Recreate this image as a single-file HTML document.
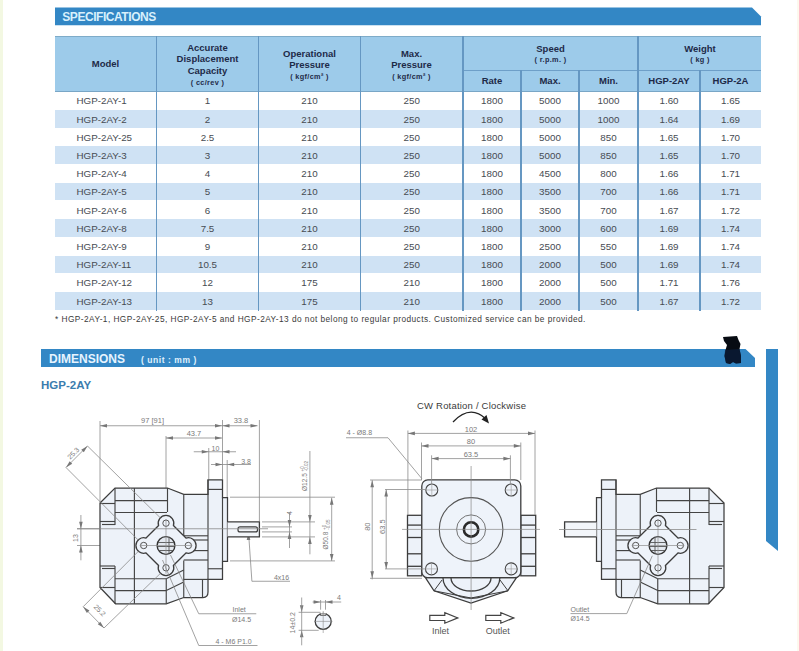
<!DOCTYPE html><html><head><meta charset="utf-8"><style>
*{margin:0;padding:0;box-sizing:border-box}
html,body{width:799px;height:651px;overflow:hidden;background:#fff}
body{position:relative;font-family:"Liberation Sans",sans-serif}
.a{position:absolute}
.t{position:absolute;text-align:center;white-space:nowrap;transform:translateX(-50%)}
.d{font-size:9.8px;color:#464b52;line-height:10px}
.h{font-size:9.5px;font-weight:bold;color:#1d2a48;line-height:11px}
.u{font-size:7.3px;font-weight:bold;color:#1d2a48;letter-spacing:0.35px;line-height:9px}
</style></head><body>

<div class="a" style="left:0;top:0;width:3px;height:651px;background:#f3f8e2"></div>
<div class="a" style="left:797px;top:0;width:2px;height:651px;background:#fdf8ee"></div>
<svg class="a" style="left:0;top:0" width="799" height="651" viewBox="0 0 799 651">
<path d="M55 7.5 H752 L761 16.5 V25.3 H55 Z" fill="#3387c5"/>
<path d="M41 349 H745.5 L755 358 V367 H41 Z" fill="#3387c5"/>
<path d="M766 349 H778 V551 L766 541 Z" fill="#3387c5"/>
<path d="M723,337 L737,336 L738.5,340 L740.5,344 L739.5,349 L741,356 L741,363 L736,363.5 L733,362 L730,364 L726,363 L724.5,356 L725.5,350 L727,345 L724,341 Z" fill="#070b12"/>
<path d="M725,350 L739.5,349 L741,356 L741,363 L736,363.5 L733,362 L730,364 L726,363 L724.5,356 Z" fill="#0b2244" opacity="0.6"/>
</svg>
<div class="a" style="left:62.3px;top:9.6px;font-size:12px;font-weight:bold;color:#d8f0fc;letter-spacing:-0.45px;line-height:14px">SPECIFICATIONS</div>
<div class="a" style="left:55px;top:36px;width:706px;height:56px;background:#9dcbea;border-top:1.5px solid #7eabc8"></div>
<div class="a" style="left:55px;top:109.9px;width:706px;height:17.8px;background:#cfe2f4"></div>
<div class="a" style="left:55px;top:146.3px;width:706px;height:17.8px;background:#cfe2f4"></div>
<div class="a" style="left:55px;top:182.7px;width:706px;height:17.8px;background:#cfe2f4"></div>
<div class="a" style="left:55px;top:219.1px;width:706px;height:17.8px;background:#cfe2f4"></div>
<div class="a" style="left:55px;top:255.5px;width:706px;height:17.8px;background:#cfe2f4"></div>
<div class="a" style="left:55px;top:291.9px;width:706px;height:17.8px;background:#cfe2f4"></div>
<div class="a" style="left:55px;top:90.5px;width:706px;height:1.5px;background:#79a6c6"></div>
<div class="a" style="left:463px;top:69.8px;width:298px;height:1.5px;background:#6e9fc8"></div>
<div class="a" style="left:155.9px;top:36px;width:1.25px;height:274.6px;background:#6597c2"></div>
<div class="a" style="left:257.9px;top:36px;width:1.25px;height:274.6px;background:#6597c2"></div>
<div class="a" style="left:359.9px;top:36px;width:1.25px;height:274.6px;background:#6597c2"></div>
<div class="a" style="left:462.4px;top:36px;width:1.25px;height:274.6px;background:#6597c2"></div>
<div class="a" style="left:520.4px;top:70px;width:1.25px;height:240.6px;background:#6597c2"></div>
<div class="a" style="left:578.4px;top:70px;width:1.25px;height:240.6px;background:#6597c2"></div>
<div class="a" style="left:637.4px;top:36px;width:1.25px;height:274.6px;background:#6597c2"></div>
<div class="a" style="left:699.4px;top:70px;width:1.25px;height:240.6px;background:#6597c2"></div>
<div class="t h" style="left:105.5px;top:58px">Model</div>
<div class="t h" style="left:207.5px;top:41.5px;line-height:11.7px">Accurate<br>Displacement<br>Capacity</div>
<div class="t u" style="left:207.5px;top:77.5px">( cc/rev )</div>
<div class="t h" style="left:309.5px;top:47.8px">Operational<br>Pressure</div>
<div class="t u" style="left:309.5px;top:72px">( kgf/cm&sup2; )</div>
<div class="t h" style="left:411.5px;top:47.8px">Max.<br>Pressure</div>
<div class="t u" style="left:411.5px;top:72px">( kgf/cm&sup2; )</div>
<div class="t h" style="left:550.5px;top:43px">Speed</div>
<div class="t u" style="left:550.5px;top:54.5px">( r.p.m. )</div>
<div class="t h" style="left:700px;top:43px">Weight</div>
<div class="t u" style="left:700px;top:54.5px">( kg )</div>
<div class="t h" style="left:492px;top:75px">Rate</div>
<div class="t h" style="left:550px;top:75px">Max.</div>
<div class="t h" style="left:608.5px;top:75px">Min.</div>
<div class="t h" style="left:669px;top:75px">HGP-2AY</div>
<div class="t h" style="left:730.5px;top:75px">HGP-2A</div>
<div class="a d" style="left:76.5px;top:96.3px;white-space:nowrap">HGP-2AY-1</div>
<div class="t d" style="left:207.5px;top:96.3px">1</div>
<div class="t d" style="left:309.5px;top:96.3px">210</div>
<div class="t d" style="left:411.8px;top:96.3px">250</div>
<div class="t d" style="left:492.0px;top:96.3px">1800</div>
<div class="t d" style="left:550.0px;top:96.3px">5000</div>
<div class="t d" style="left:608.5px;top:96.3px">1000</div>
<div class="t d" style="left:669.0px;top:96.3px">1.60</div>
<div class="t d" style="left:730.5px;top:96.3px">1.65</div>
<div class="a d" style="left:76.5px;top:114.5px;white-space:nowrap">HGP-2AY-2</div>
<div class="t d" style="left:207.5px;top:114.5px">2</div>
<div class="t d" style="left:309.5px;top:114.5px">210</div>
<div class="t d" style="left:411.8px;top:114.5px">250</div>
<div class="t d" style="left:492.0px;top:114.5px">1800</div>
<div class="t d" style="left:550.0px;top:114.5px">5000</div>
<div class="t d" style="left:608.5px;top:114.5px">1000</div>
<div class="t d" style="left:669.0px;top:114.5px">1.64</div>
<div class="t d" style="left:730.5px;top:114.5px">1.69</div>
<div class="a d" style="left:76.5px;top:132.7px;white-space:nowrap">HGP-2AY-25</div>
<div class="t d" style="left:207.5px;top:132.7px">2.5</div>
<div class="t d" style="left:309.5px;top:132.7px">210</div>
<div class="t d" style="left:411.8px;top:132.7px">250</div>
<div class="t d" style="left:492.0px;top:132.7px">1800</div>
<div class="t d" style="left:550.0px;top:132.7px">5000</div>
<div class="t d" style="left:608.5px;top:132.7px">850</div>
<div class="t d" style="left:669.0px;top:132.7px">1.65</div>
<div class="t d" style="left:730.5px;top:132.7px">1.70</div>
<div class="a d" style="left:76.5px;top:150.9px;white-space:nowrap">HGP-2AY-3</div>
<div class="t d" style="left:207.5px;top:150.9px">3</div>
<div class="t d" style="left:309.5px;top:150.9px">210</div>
<div class="t d" style="left:411.8px;top:150.9px">250</div>
<div class="t d" style="left:492.0px;top:150.9px">1800</div>
<div class="t d" style="left:550.0px;top:150.9px">5000</div>
<div class="t d" style="left:608.5px;top:150.9px">850</div>
<div class="t d" style="left:669.0px;top:150.9px">1.65</div>
<div class="t d" style="left:730.5px;top:150.9px">1.70</div>
<div class="a d" style="left:76.5px;top:169.1px;white-space:nowrap">HGP-2AY-4</div>
<div class="t d" style="left:207.5px;top:169.1px">4</div>
<div class="t d" style="left:309.5px;top:169.1px">210</div>
<div class="t d" style="left:411.8px;top:169.1px">250</div>
<div class="t d" style="left:492.0px;top:169.1px">1800</div>
<div class="t d" style="left:550.0px;top:169.1px">4500</div>
<div class="t d" style="left:608.5px;top:169.1px">800</div>
<div class="t d" style="left:669.0px;top:169.1px">1.66</div>
<div class="t d" style="left:730.5px;top:169.1px">1.71</div>
<div class="a d" style="left:76.5px;top:187.3px;white-space:nowrap">HGP-2AY-5</div>
<div class="t d" style="left:207.5px;top:187.3px">5</div>
<div class="t d" style="left:309.5px;top:187.3px">210</div>
<div class="t d" style="left:411.8px;top:187.3px">250</div>
<div class="t d" style="left:492.0px;top:187.3px">1800</div>
<div class="t d" style="left:550.0px;top:187.3px">3500</div>
<div class="t d" style="left:608.5px;top:187.3px">700</div>
<div class="t d" style="left:669.0px;top:187.3px">1.66</div>
<div class="t d" style="left:730.5px;top:187.3px">1.71</div>
<div class="a d" style="left:76.5px;top:205.5px;white-space:nowrap">HGP-2AY-6</div>
<div class="t d" style="left:207.5px;top:205.5px">6</div>
<div class="t d" style="left:309.5px;top:205.5px">210</div>
<div class="t d" style="left:411.8px;top:205.5px">250</div>
<div class="t d" style="left:492.0px;top:205.5px">1800</div>
<div class="t d" style="left:550.0px;top:205.5px">3500</div>
<div class="t d" style="left:608.5px;top:205.5px">700</div>
<div class="t d" style="left:669.0px;top:205.5px">1.67</div>
<div class="t d" style="left:730.5px;top:205.5px">1.72</div>
<div class="a d" style="left:76.5px;top:223.7px;white-space:nowrap">HGP-2AY-8</div>
<div class="t d" style="left:207.5px;top:223.7px">7.5</div>
<div class="t d" style="left:309.5px;top:223.7px">210</div>
<div class="t d" style="left:411.8px;top:223.7px">250</div>
<div class="t d" style="left:492.0px;top:223.7px">1800</div>
<div class="t d" style="left:550.0px;top:223.7px">3000</div>
<div class="t d" style="left:608.5px;top:223.7px">600</div>
<div class="t d" style="left:669.0px;top:223.7px">1.69</div>
<div class="t d" style="left:730.5px;top:223.7px">1.74</div>
<div class="a d" style="left:76.5px;top:241.9px;white-space:nowrap">HGP-2AY-9</div>
<div class="t d" style="left:207.5px;top:241.9px">9</div>
<div class="t d" style="left:309.5px;top:241.9px">210</div>
<div class="t d" style="left:411.8px;top:241.9px">250</div>
<div class="t d" style="left:492.0px;top:241.9px">1800</div>
<div class="t d" style="left:550.0px;top:241.9px">2500</div>
<div class="t d" style="left:608.5px;top:241.9px">550</div>
<div class="t d" style="left:669.0px;top:241.9px">1.69</div>
<div class="t d" style="left:730.5px;top:241.9px">1.74</div>
<div class="a d" style="left:76.5px;top:260.1px;white-space:nowrap">HGP-2AY-11</div>
<div class="t d" style="left:207.5px;top:260.1px">10.5</div>
<div class="t d" style="left:309.5px;top:260.1px">210</div>
<div class="t d" style="left:411.8px;top:260.1px">250</div>
<div class="t d" style="left:492.0px;top:260.1px">1800</div>
<div class="t d" style="left:550.0px;top:260.1px">2000</div>
<div class="t d" style="left:608.5px;top:260.1px">500</div>
<div class="t d" style="left:669.0px;top:260.1px">1.69</div>
<div class="t d" style="left:730.5px;top:260.1px">1.74</div>
<div class="a d" style="left:76.5px;top:278.3px;white-space:nowrap">HGP-2AY-12</div>
<div class="t d" style="left:207.5px;top:278.3px">12</div>
<div class="t d" style="left:309.5px;top:278.3px">175</div>
<div class="t d" style="left:411.8px;top:278.3px">210</div>
<div class="t d" style="left:492.0px;top:278.3px">1800</div>
<div class="t d" style="left:550.0px;top:278.3px">2000</div>
<div class="t d" style="left:608.5px;top:278.3px">500</div>
<div class="t d" style="left:669.0px;top:278.3px">1.71</div>
<div class="t d" style="left:730.5px;top:278.3px">1.76</div>
<div class="a d" style="left:76.5px;top:296.5px;white-space:nowrap">HGP-2AY-13</div>
<div class="t d" style="left:207.5px;top:296.5px">13</div>
<div class="t d" style="left:309.5px;top:296.5px">175</div>
<div class="t d" style="left:411.8px;top:296.5px">210</div>
<div class="t d" style="left:492.0px;top:296.5px">1800</div>
<div class="t d" style="left:550.0px;top:296.5px">2000</div>
<div class="t d" style="left:608.5px;top:296.5px">500</div>
<div class="t d" style="left:669.0px;top:296.5px">1.67</div>
<div class="t d" style="left:730.5px;top:296.5px">1.72</div>
<div class="a" style="left:55px;top:314px;font-size:8.3px;color:#3a3a3a;letter-spacing:0.45px;line-height:10px;white-space:nowrap">* HGP-2AY-1, HGP-2AY-25, HGP-2AY-5 and HGP-2AY-13 do not belong to regular products. Customized service can be provided.</div>
<div class="a" style="left:49px;top:352px;font-size:12px;font-weight:bold;color:#e6f4ff;line-height:14px">DIMENSIONS</div>
<div class="a" style="left:141px;top:355px;font-size:8.5px;font-weight:bold;color:#e0f2fd;line-height:10px;white-space:pre;letter-spacing:0.55px">( unit : mm )</div>
<div class="a" style="left:41px;top:377.5px;font-size:11.5px;font-weight:bold;color:#3b7cae;line-height:14px">HGP-2AY</div>
<svg class="a" style="left:0;top:0" width="799" height="651" viewBox="0 0 799 651"><path d="M100,421 V502" stroke="#8a8a8a" stroke-width="0.8" fill="none"/>
<path d="M100,425.75 H222" stroke="#8a8a8a" stroke-width="0.8" fill="none"/>
<path d="M222.5,420 V479" stroke="#8a8a8a" stroke-width="0.8" fill="none"/>
<path d="M222,425.75 H257.5" stroke="#8a8a8a" stroke-width="0.8" fill="none"/>
<path d="M259.4,420 V521" stroke="#8a8a8a" stroke-width="0.8" fill="none"/>
<path d="M166,436 V488" stroke="#8a8a8a" stroke-width="0.8" fill="none"/>
<path d="M166,438 H222" stroke="#8a8a8a" stroke-width="0.8" fill="none"/>
<path d="M193.75,451.75 H236" stroke="#8a8a8a" stroke-width="0.8" fill="none"/>
<path d="M208.75,448 V479" stroke="#8a8a8a" stroke-width="0.8" fill="none"/>
<path d="M211,464.5 H251" stroke="#8a8a8a" stroke-width="0.8" fill="none"/>
<path d="M227.2,460 V497" stroke="#8a8a8a" stroke-width="0.8" fill="none"/>
<path d="M66,467.5 L87.5,446" stroke="#8a8a8a" stroke-width="0.8" fill="none"/>
<path d="M80.9,515 V560.3" stroke="#8a8a8a" stroke-width="0.8" fill="none"/>
<path d="M77,528.75 H100" stroke="#8a8a8a" stroke-width="0.8" fill="none"/>
<path d="M77,545.5 H100" stroke="#8a8a8a" stroke-width="0.8" fill="none"/>
<path d="M83.2,606.7 L104,628" stroke="#8a8a8a" stroke-width="0.8" fill="none"/>
<path d="M309.9,451 V554.3" stroke="#8a8a8a" stroke-width="0.8" fill="none"/>
<path d="M262,521.9 H315" stroke="#8a8a8a" stroke-width="0.8" fill="none"/>
<path d="M262,536.9 H315" stroke="#8a8a8a" stroke-width="0.8" fill="none"/>
<path d="M331.7,497.7 V560.9" stroke="#8a8a8a" stroke-width="0.8" fill="none"/>
<path d="M230,497.2 H335" stroke="#8a8a8a" stroke-width="0.8" fill="none"/>
<path d="M230,560.9 H335" stroke="#8a8a8a" stroke-width="0.8" fill="none"/>
<path d="M289.5,512.5 V548" stroke="#8a8a8a" stroke-width="0.8" fill="none"/>
<path d="M262,526.9 H292" stroke="#8a8a8a" stroke-width="0.8" fill="none"/>
<path d="M262,531.9 H292" stroke="#8a8a8a" stroke-width="0.8" fill="none"/>
<path d="M248.5,532 L251.9,581.25 H290" stroke="#8a8a8a" stroke-width="0.8" fill="none"/>
<path d="M0,0 L-7,-1.8 L-7,1.8 Z" transform="translate(100,425.75) rotate(180)" fill="#777"/>
<path d="M0,0 L-7,-1.8 L-7,1.8 Z" transform="translate(222,425.75) rotate(0)" fill="#777"/>
<path d="M0,0 L-7,-1.8 L-7,1.8 Z" transform="translate(222.5,425.75) rotate(180)" fill="#777"/>
<path d="M0,0 L-7,-1.8 L-7,1.8 Z" transform="translate(257.5,425.75) rotate(0)" fill="#777"/>
<path d="M0,0 L-7,-1.8 L-7,1.8 Z" transform="translate(166,438) rotate(180)" fill="#777"/>
<path d="M0,0 L-7,-1.8 L-7,1.8 Z" transform="translate(222,438) rotate(0)" fill="#777"/>
<path d="M0,0 L-7,-1.8 L-7,1.8 Z" transform="translate(208.75,451.75) rotate(0)" fill="#777"/>
<path d="M0,0 L-7,-1.8 L-7,1.8 Z" transform="translate(222.5,451.75) rotate(180)" fill="#777"/>
<path d="M0,0 L-7,-1.8 L-7,1.8 Z" transform="translate(222.5,464.5) rotate(0)" fill="#777"/>
<path d="M0,0 L-7,-1.8 L-7,1.8 Z" transform="translate(227.2,464.5) rotate(180)" fill="#777"/>
<path d="M0,0 L-7,-1.8 L-7,1.8 Z" transform="translate(66,467.5) rotate(135)" fill="#777"/>
<path d="M0,0 L-7,-1.8 L-7,1.8 Z" transform="translate(87.5,446) rotate(-45)" fill="#777"/>
<path d="M0,0 L-7,-1.8 L-7,1.8 Z" transform="translate(80.9,528.75) rotate(90)" fill="#777"/>
<path d="M0,0 L-7,-1.8 L-7,1.8 Z" transform="translate(80.9,545.5) rotate(-90)" fill="#777"/>
<path d="M0,0 L-7,-1.8 L-7,1.8 Z" transform="translate(83.2,606.7) rotate(-135)" fill="#777"/>
<path d="M0,0 L-7,-1.8 L-7,1.8 Z" transform="translate(104,628) rotate(45)" fill="#777"/>
<path d="M0,0 L-7,-1.8 L-7,1.8 Z" transform="translate(309.9,521.9) rotate(90)" fill="#777"/>
<path d="M0,0 L-7,-1.8 L-7,1.8 Z" transform="translate(309.9,536.9) rotate(-90)" fill="#777"/>
<path d="M0,0 L-7,-1.8 L-7,1.8 Z" transform="translate(331.7,497.7) rotate(-90)" fill="#777"/>
<path d="M0,0 L-7,-1.8 L-7,1.8 Z" transform="translate(331.7,560.9) rotate(90)" fill="#777"/>
<path d="M0,0 L-7,-1.8 L-7,1.8 Z" transform="translate(289.5,526.9) rotate(90)" fill="#777"/>
<path d="M0,0 L-7,-1.8 L-7,1.8 Z" transform="translate(289.5,531.9) rotate(-90)" fill="#777"/>
<path d="M0,0 L-7,-1.8 L-7,1.8 Z" transform="translate(248.5,533) rotate(-90)" fill="#777"/>
<path d="M0,0 L-7,-1.8 L-7,1.8 Z" transform="translate(301.7,612.3) rotate(90)" fill="#777"/>
<path d="M0,0 L-7,-1.8 L-7,1.8 Z" transform="translate(301.7,630.3) rotate(-90)" fill="#777"/>
<text x="152.5" y="422.5" font-size="7.5" text-anchor="middle" font-family="Liberation Sans" fill="#7a7a7a">97 [91]</text>
<text x="241" y="422.5" font-size="7.5" text-anchor="middle" font-family="Liberation Sans" fill="#7a7a7a">33.8</text>
<text x="194" y="435.5" font-size="7.5" text-anchor="middle" font-family="Liberation Sans" fill="#7a7a7a">43.7</text>
<text x="215.5" y="450.5" font-size="7" text-anchor="middle" font-family="Liberation Sans" fill="#7a7a7a">10</text>
<text x="246" y="463.5" font-size="7" text-anchor="middle" font-family="Liberation Sans" fill="#7a7a7a">3.8</text>
<text x="0" y="0" font-size="7" text-anchor="middle" font-family="Liberation Sans" fill="#7a7a7a" transform="translate(75,455) rotate(-45)">25.3</text>
<text x="0" y="0" font-size="7" text-anchor="middle" font-family="Liberation Sans" fill="#7a7a7a" transform="translate(77.5,538) rotate(-90)">13</text>
<text x="0" y="0" font-size="7" text-anchor="middle" font-family="Liberation Sans" fill="#7a7a7a" transform="translate(98,612) rotate(45)">25.2</text>
<text x="0" y="0" font-size="6.5" text-anchor="middle" font-family="Liberation Sans" fill="#7a7a7a" transform="translate(306.5,476) rotate(-90)">Ø12.5 <tspan font-size="4.5" dy="-2.5">+0</tspan><tspan font-size="4.5" dx="-5" dy="4">-0.02</tspan></text>
<text x="0" y="0" font-size="6.5" text-anchor="middle" font-family="Liberation Sans" fill="#7a7a7a" transform="translate(328.3,534.5) rotate(-90)">Ø50.8 <tspan font-size="4.5" dy="-2.5">+0</tspan><tspan font-size="4.5" dx="-5" dy="4">-0.05</tspan></text>
<text x="0" y="0" font-size="7" text-anchor="middle" font-family="Liberation Sans" fill="#7a7a7a" transform="translate(291.5,513) rotate(-90)">4</text>
<text x="281.5" y="580" font-size="7" text-anchor="middle" font-family="Liberation Sans" fill="#7a7a7a">4x16</text>
<text x="232.5" y="612" font-size="7" font-family="Liberation Sans" fill="#7a7a7a">Inlet</text>
<text x="232" y="621.5" font-size="7" font-family="Liberation Sans" fill="#7a7a7a">Ø14.5</text>
<text x="215.5" y="643.5" font-size="7" font-family="Liberation Sans" fill="#7a7a7a">4 - M6  P1.0</text>
<circle cx="323.2" cy="621.4" r="8" fill="#eef3fa" stroke="#3d3d3d" stroke-width="1.3"/>
<path d="M320.3,613.5 V615.2 H326.1 V613.5" fill="#fff" stroke="#3d3d3d" stroke-width="1"/>
<path d="M323.2,611 V633 M314,621.4 H332.5" stroke="#8a8a8a" stroke-width="0.6" fill="none"/>
<path d="M301.7,597.5 V645.3" stroke="#8a8a8a" stroke-width="0.8" fill="none"/>
<path d="M298.6,612.3 H320.6" stroke="#8a8a8a" stroke-width="0.8" fill="none"/>
<path d="M298.6,630.3 H318.7" stroke="#8a8a8a" stroke-width="0.8" fill="none"/>
<path d="M312.6,602 H341.2" stroke="#8a8a8a" stroke-width="0.8" fill="none"/>
<path d="M320.6,600 V609.7" stroke="#8a8a8a" stroke-width="0.8" fill="none"/>
<path d="M325.5,600 V609.7" stroke="#8a8a8a" stroke-width="0.8" fill="none"/>
<path d="M0,0 L-7,-1.8 L-7,1.8 Z" transform="translate(320.6,602) rotate(0)" fill="#777"/>
<path d="M0,0 L-7,-1.8 L-7,1.8 Z" transform="translate(325.5,602) rotate(180)" fill="#777"/>
<text x="0" y="0" font-size="7" text-anchor="middle" font-family="Liberation Sans" fill="#7a7a7a" transform="translate(295,622.8) rotate(-90)">14±0.2</text>
<text x="339" y="600" font-size="7" text-anchor="middle" font-family="Liberation Sans" fill="#7a7a7a">4</text><path d="M100,503 L115,488 L167.5,488 L183.75,494.4 L208,494.4 L208,479.75 L222.5,479.75 L222.5,497.5 L227.5,497.5 L227.5,561.25 L222.5,561.25 L222.5,579.4 L208,579.4 L208,592 Q208,597.5 203,597.5 L183.75,597.5 L166.25,603.75 L115.6,603.75 L100,587.5 Z" fill="#edf2f9" stroke="#3d3d3d" stroke-width="1.25"/>
<path d="M227.5,521.9 H259.4 V536.9 H227.5" fill="#f3f6fa" stroke="#3d3d3d" stroke-width="1.3"/>
<rect x="238" y="526.9" width="19.5" height="5" rx="2" fill="none" stroke="#3d3d3d" stroke-width="1.2"/>
<path d="M115,488 V525" stroke="#444" stroke-width="1.15" fill="none"/>
<path d="M100,503.5 H115" stroke="#444" stroke-width="1.15" fill="none"/>
<path d="M100,521.5 H115" stroke="#444" stroke-width="1.15" fill="none"/>
<path d="M102,524.5 H115" stroke="#444" stroke-width="1.15" fill="none"/>
<path d="M100,566 H115" stroke="#444" stroke-width="1.15" fill="none"/>
<path d="M102,568.5 H115" stroke="#444" stroke-width="1.15" fill="none"/>
<path d="M115,566 V603.75" stroke="#444" stroke-width="1.15" fill="none"/>
<path d="M100,587.5 H115" stroke="#444" stroke-width="1.15" fill="none"/>
<path d="M115,500.6 H167" stroke="#444" stroke-width="1.15" fill="none"/>
<path d="M115,512.5 H167" stroke="#444" stroke-width="1.15" fill="none"/>
<path d="M134.4,488 V603.75" stroke="#444" stroke-width="1.15" fill="none"/>
<path d="M167.5,488 V512" stroke="#444" stroke-width="1.15" fill="none"/>
<path d="M183.75,494.4 V536" stroke="#444" stroke-width="1.15" fill="none"/>
<path d="M183.75,560.5 V597.5" stroke="#444" stroke-width="1.15" fill="none"/>
<path d="M183.75,535.8 H208" stroke="#444" stroke-width="1.15" fill="none"/>
<path d="M190,540 H208" stroke="#444" stroke-width="1.15" fill="none"/>
<path d="M183.75,550.6 H208" stroke="#444" stroke-width="1.15" fill="none"/>
<path d="M183.75,560 H208" stroke="#444" stroke-width="1.15" fill="none"/>
<path d="M183.75,579.4 H208" stroke="#444" stroke-width="1.15" fill="none"/>
<path d="M202.5,579.4 V597.5" stroke="#444" stroke-width="1.15" fill="none"/>
<path d="M208,489.4 H222.5" stroke="#444" stroke-width="1.15" fill="none"/>
<path d="M208,479.75 V579.4" stroke="#444" stroke-width="1.15" fill="none"/>
<path d="M222.5,497.5 V561.25" stroke="#444" stroke-width="1.15" fill="none"/>
<path d="M208,568.75 H222.5" stroke="#444" stroke-width="1.15" fill="none"/>
<path d="M115,578.75 H166.25" stroke="#444" stroke-width="1.15" fill="none"/>
<path d="M115,590.6 H166.25" stroke="#444" stroke-width="1.15" fill="none"/>
<path d="M166.25,578.75 V603.75" stroke="#444" stroke-width="1.15" fill="none"/>
<path d="M166.25,578.75 L183.75,570" stroke="#444" stroke-width="1.15" fill="none"/>
<path d="M166.25,590.6 L183.75,582" stroke="#444" stroke-width="1.15" fill="none"/>
<path d="M173.44,525.55 L185.95,538.06 A7.8,7.8 0 1 1 185.95,552.94 L173.44,565.45 A7.8,7.8 0 1 1 158.56,565.45 L146.05,552.94 A7.8,7.8 0 1 1 146.05,538.06 L158.56,525.55 A7.8,7.8 0 1 1 173.44,525.55 Z" fill="#eef3fa" stroke="#3d3d3d" stroke-width="1.3"/>
<circle cx="166" cy="523.2" r="3.2" fill="none" stroke="#555" stroke-width="1"/>
<circle cx="188.3" cy="545.5" r="3.2" fill="none" stroke="#555" stroke-width="1"/>
<circle cx="166" cy="567.8" r="3.2" fill="none" stroke="#555" stroke-width="1"/>
<circle cx="143.7" cy="545.5" r="3.2" fill="none" stroke="#555" stroke-width="1"/>
<circle cx="166" cy="545.5" r="8.9" fill="#e3e8ef" stroke="#333" stroke-width="1.4"/>
<path d="M158,542.5 H174 M157.5,546.5 H174.5 M159,550.5 H173 M169,537.0 V554.0" stroke="#555" stroke-width="0.9" fill="none"/>
<path d="M166,519.2 V573.8 M139.7,545.5 H192.3" stroke="#8c8c8c" stroke-width="0.7" fill="none"/><path d="M87.5,446 L160.5,518" stroke="#8a8a8a" stroke-width="0.8" fill="none"/>
<path d="M66,467.5 L138.2,540" stroke="#8a8a8a" stroke-width="0.8" fill="none"/>
<path d="M83.2,606.7 L138.2,551.5" stroke="#8a8a8a" stroke-width="0.8" fill="none"/>
<path d="M104,628 L160.5,573.3" stroke="#8a8a8a" stroke-width="0.8" fill="none"/>
<path d="M77,528.75 H268" stroke="#8a8a8a" stroke-width="0.8" fill="none"/>
<path d="M170.5,555 L198.75,613.75 H256.25" stroke="#8a8a8a" stroke-width="0.8" fill="none"/>
<path d="M162.5,560 L198.75,645.5 H257.5" stroke="#8a8a8a" stroke-width="0.8" fill="none"/><g transform="translate(824,0) scale(-1,1)"><path d="M100,503 L115,488 L167.5,488 L183.75,494.4 L208,494.4 L208,479.75 L222.5,479.75 L222.5,497.5 L227.5,497.5 L227.5,561.25 L222.5,561.25 L222.5,579.4 L208,579.4 L208,592 Q208,597.5 203,597.5 L183.75,597.5 L166.25,603.75 L115.6,603.75 L100,587.5 Z" fill="#edf2f9" stroke="#3d3d3d" stroke-width="1.25"/>
<path d="M227.5,521.9 H259.4 V536.9 H227.5" fill="#f3f6fa" stroke="#3d3d3d" stroke-width="1.3"/>
<path d="M115,488 V525" stroke="#444" stroke-width="1.15" fill="none"/>
<path d="M100,503.5 H115" stroke="#444" stroke-width="1.15" fill="none"/>
<path d="M100,521.5 H115" stroke="#444" stroke-width="1.15" fill="none"/>
<path d="M102,524.5 H115" stroke="#444" stroke-width="1.15" fill="none"/>
<path d="M100,566 H115" stroke="#444" stroke-width="1.15" fill="none"/>
<path d="M102,568.5 H115" stroke="#444" stroke-width="1.15" fill="none"/>
<path d="M115,566 V603.75" stroke="#444" stroke-width="1.15" fill="none"/>
<path d="M100,587.5 H115" stroke="#444" stroke-width="1.15" fill="none"/>
<path d="M115,500.6 H167" stroke="#444" stroke-width="1.15" fill="none"/>
<path d="M115,512.5 H167" stroke="#444" stroke-width="1.15" fill="none"/>
<path d="M134.4,488 V603.75" stroke="#444" stroke-width="1.15" fill="none"/>
<path d="M167.5,488 V512" stroke="#444" stroke-width="1.15" fill="none"/>
<path d="M183.75,494.4 V536" stroke="#444" stroke-width="1.15" fill="none"/>
<path d="M183.75,560.5 V597.5" stroke="#444" stroke-width="1.15" fill="none"/>
<path d="M183.75,535.8 H208" stroke="#444" stroke-width="1.15" fill="none"/>
<path d="M190,540 H208" stroke="#444" stroke-width="1.15" fill="none"/>
<path d="M183.75,550.6 H208" stroke="#444" stroke-width="1.15" fill="none"/>
<path d="M183.75,560 H208" stroke="#444" stroke-width="1.15" fill="none"/>
<path d="M183.75,579.4 H208" stroke="#444" stroke-width="1.15" fill="none"/>
<path d="M202.5,579.4 V597.5" stroke="#444" stroke-width="1.15" fill="none"/>
<path d="M208,489.4 H222.5" stroke="#444" stroke-width="1.15" fill="none"/>
<path d="M208,479.75 V579.4" stroke="#444" stroke-width="1.15" fill="none"/>
<path d="M222.5,497.5 V561.25" stroke="#444" stroke-width="1.15" fill="none"/>
<path d="M208,568.75 H222.5" stroke="#444" stroke-width="1.15" fill="none"/>
<path d="M115,578.75 H166.25" stroke="#444" stroke-width="1.15" fill="none"/>
<path d="M115,590.6 H166.25" stroke="#444" stroke-width="1.15" fill="none"/>
<path d="M166.25,578.75 V603.75" stroke="#444" stroke-width="1.15" fill="none"/>
<path d="M166.25,578.75 L183.75,570" stroke="#444" stroke-width="1.15" fill="none"/>
<path d="M166.25,590.6 L183.75,582" stroke="#444" stroke-width="1.15" fill="none"/>
<path d="M173.44,525.55 L185.95,538.06 A7.8,7.8 0 1 1 185.95,552.94 L173.44,565.45 A7.8,7.8 0 1 1 158.56,565.45 L146.05,552.94 A7.8,7.8 0 1 1 146.05,538.06 L158.56,525.55 A7.8,7.8 0 1 1 173.44,525.55 Z" fill="#eef3fa" stroke="#3d3d3d" stroke-width="1.3"/>
<circle cx="166" cy="523.2" r="3.2" fill="none" stroke="#555" stroke-width="1"/>
<circle cx="188.3" cy="545.5" r="3.2" fill="none" stroke="#555" stroke-width="1"/>
<circle cx="166" cy="567.8" r="3.2" fill="none" stroke="#555" stroke-width="1"/>
<circle cx="143.7" cy="545.5" r="3.2" fill="none" stroke="#555" stroke-width="1"/>
<circle cx="166" cy="545.5" r="8.9" fill="#e3e8ef" stroke="#333" stroke-width="1.4"/>
<path d="M158,542.5 H174 M157.5,546.5 H174.5 M159,550.5 H173 M169,537.0 V554.0" stroke="#555" stroke-width="0.9" fill="none"/>
<path d="M166,519.2 V573.8 M139.7,545.5 H192.3" stroke="#8c8c8c" stroke-width="0.7" fill="none"/></g><path d="M652.3,555.8 L626.8,613.6 H570.5" stroke="#8a8a8a" stroke-width="0.8" fill="none"/>
<path d="M559,529.5 H696.5" stroke="#8a8a8a" stroke-width="0.8" fill="none"/>
<text x="570.5" y="612" font-size="7" font-family="Liberation Sans" fill="#7a7a7a">Outlet</text>
<text x="570.5" y="621" font-size="7" font-family="Liberation Sans" fill="#7a7a7a">Ø14.5</text><rect x="407.5" y="515.3" width="14.300000000000011" height="60.5" fill="#edf2f9" stroke="#3d3d3d" stroke-width="1.3"/>
<path d="M407.5,525.1 H421.8" stroke="#3d3d3d" stroke-width="1.3" fill="none"/>
<path d="M407.5,537.5 H421.8" stroke="#3d3d3d" stroke-width="1.3" fill="none"/>
<path d="M407.5,553.8 H421.8" stroke="#3d3d3d" stroke-width="1.3" fill="none"/>
<path d="M407.5,566.3 H421.8" stroke="#3d3d3d" stroke-width="1.3" fill="none"/>
<rect x="520.8" y="515.3" width="14.900000000000091" height="60.5" fill="#edf2f9" stroke="#3d3d3d" stroke-width="1.3"/>
<path d="M520.8,525.1 H535.7" stroke="#3d3d3d" stroke-width="1.3" fill="none"/>
<path d="M520.8,537.5 H535.7" stroke="#3d3d3d" stroke-width="1.3" fill="none"/>
<path d="M520.8,553.8 H535.7" stroke="#3d3d3d" stroke-width="1.3" fill="none"/>
<path d="M520.8,566.3 H535.7" stroke="#3d3d3d" stroke-width="1.3" fill="none"/>
<path d="M425.4,577.6 L434,590.8 L471,603 L507.7,590.8 L516.5,577.6 Z" fill="#edf2f9" stroke="#3d3d3d" stroke-width="1.3"/>
<path d="M443,578 A28,20 0 0 0 499.8,578" fill="none" stroke="#3d3d3d" stroke-width="1.3"/>
<path d="M451,578 A20,13 0 0 0 491,578" fill="none" stroke="#3d3d3d" stroke-width="1.3"/>
<path d="M442,580 L434,590.8 M500,580 L508,590.8 M434,590.8 L471,598 L508,590.8" fill="none" stroke="#3d3d3d" stroke-width="1"/>
<rect x="421.8" y="479.9" width="99" height="97.8" rx="6" fill="#eef3fa" stroke="#3d3d3d" stroke-width="1.3"/>
<circle cx="431.8" cy="490" r="6" fill="none" stroke="#444" stroke-width="1.1"/>
<path d="M425.8,490 H437.8 M431.8,484 V496" stroke="#999" stroke-width="0.6"/>
<circle cx="511.2" cy="490" r="6" fill="none" stroke="#444" stroke-width="1.1"/>
<path d="M505.2,490 H517.2 M511.2,484 V496" stroke="#999" stroke-width="0.6"/>
<circle cx="431.5" cy="568.9" r="6" fill="none" stroke="#444" stroke-width="1.1"/>
<path d="M425.5,568.9 H437.5 M431.5,562.9 V574.9" stroke="#999" stroke-width="0.6"/>
<circle cx="511.2" cy="568.9" r="6" fill="none" stroke="#444" stroke-width="1.1"/>
<path d="M505.2,568.9 H517.2 M511.2,562.9 V574.9" stroke="#999" stroke-width="0.6"/>
<circle cx="471.1" cy="529.4" r="31.8" fill="none" stroke="#555" stroke-width="1.1"/>
<circle cx="471.1" cy="529.4" r="14.5" fill="none" stroke="#666" stroke-width="0.9"/>
<circle cx="471.1" cy="529.4" r="7.2" fill="none" stroke="#2a2a2a" stroke-width="2.6"/>
<path d="M471.1,466 V610" stroke="#888" stroke-width="0.7" fill="none"/>
<path d="M402,529.4 H540" stroke="#888" stroke-width="0.7" fill="none"/>
<path d="M407.9,430.5 V515" stroke="#8a8a8a" stroke-width="0.8" fill="none"/>
<path d="M535,430.5 V515" stroke="#8a8a8a" stroke-width="0.8" fill="none"/>
<path d="M407.9,433.4 H535" stroke="#8a8a8a" stroke-width="0.8" fill="none"/>
<path d="M421.5,442.5 V480" stroke="#8a8a8a" stroke-width="0.8" fill="none"/>
<path d="M520.8,442.5 V480" stroke="#8a8a8a" stroke-width="0.8" fill="none"/>
<path d="M421.5,445.9 H520.8" stroke="#8a8a8a" stroke-width="0.8" fill="none"/>
<path d="M431.6,455.3 V484" stroke="#8a8a8a" stroke-width="0.8" fill="none"/>
<path d="M510.4,455.3 V484" stroke="#8a8a8a" stroke-width="0.8" fill="none"/>
<path d="M431.6,458.6 H510.4" stroke="#8a8a8a" stroke-width="0.8" fill="none"/>
<path d="M372.2,480.2 V579.4" stroke="#8a8a8a" stroke-width="0.8" fill="none"/>
<path d="M370,480 H422" stroke="#8a8a8a" stroke-width="0.8" fill="none"/>
<path d="M370,578.3 H422" stroke="#8a8a8a" stroke-width="0.8" fill="none"/>
<path d="M386.2,489.5 V569" stroke="#8a8a8a" stroke-width="0.8" fill="none"/>
<path d="M385,489.5 H426" stroke="#8a8a8a" stroke-width="0.8" fill="none"/>
<path d="M385,568.9 H426" stroke="#8a8a8a" stroke-width="0.8" fill="none"/>
<path d="M346,437.75 H388 L421.8,478.6" stroke="#8a8a8a" stroke-width="0.8" fill="none"/>
<path d="M0,0 L-7,-1.8 L-7,1.8 Z" transform="translate(407.9,433.4) rotate(180)" fill="#777"/>
<path d="M0,0 L-7,-1.8 L-7,1.8 Z" transform="translate(535,433.4) rotate(0)" fill="#777"/>
<path d="M0,0 L-7,-1.8 L-7,1.8 Z" transform="translate(421.5,445.9) rotate(180)" fill="#777"/>
<path d="M0,0 L-7,-1.8 L-7,1.8 Z" transform="translate(520.8,445.9) rotate(0)" fill="#777"/>
<path d="M0,0 L-7,-1.8 L-7,1.8 Z" transform="translate(431.6,458.6) rotate(180)" fill="#777"/>
<path d="M0,0 L-7,-1.8 L-7,1.8 Z" transform="translate(510.4,458.6) rotate(0)" fill="#777"/>
<path d="M0,0 L-7,-1.8 L-7,1.8 Z" transform="translate(372.2,480.2) rotate(-90)" fill="#777"/>
<path d="M0,0 L-7,-1.8 L-7,1.8 Z" transform="translate(372.2,578.3) rotate(90)" fill="#777"/>
<path d="M0,0 L-7,-1.8 L-7,1.8 Z" transform="translate(386.2,489.5) rotate(-90)" fill="#777"/>
<path d="M0,0 L-7,-1.8 L-7,1.8 Z" transform="translate(386.2,568.9) rotate(90)" fill="#777"/>
<text x="471" y="432" font-size="7.5" text-anchor="middle" font-family="Liberation Sans" fill="#7a7a7a">102</text>
<text x="471" y="444" font-size="7.5" text-anchor="middle" font-family="Liberation Sans" fill="#7a7a7a">80</text>
<text x="471" y="457" font-size="7.5" text-anchor="middle" font-family="Liberation Sans" fill="#7a7a7a">63.5</text>
<text x="0" y="0" font-size="7.5" text-anchor="middle" font-family="Liberation Sans" fill="#7a7a7a" transform="translate(370,526.7) rotate(-90)">80</text>
<text x="0" y="0" font-size="7.5" text-anchor="middle" font-family="Liberation Sans" fill="#7a7a7a" transform="translate(384.5,526.7) rotate(-90)">63.5</text>
<text x="346.75" y="435.3" font-size="7" font-family="Liberation Sans" fill="#7a7a7a">4 - Ø8.8</text>
<text x="417" y="409" font-size="9.5" letter-spacing="0.2" font-family="Liberation Sans" fill="#3a3a3a">CW Rotation / Clockwise</text>
<path d="M453,422 Q470,404 486,419" fill="none" stroke="#222" stroke-width="1.3"/>
<path d="M489,423.5 L481.5,419.5 L486.5,415 Z" fill="#222"/>
<path d="M429.8,615.3 H444.8 V612.7 L457.8,617.9 L444.8,623.2 V620.5 H429.8 Z" fill="#fff" stroke="#444" stroke-width="1.2"/>
<path d="M485.8,615.3 H500.8 V612.7 L513.8,617.9 L500.8,623.2 V620.5 H485.8 Z" fill="#fff" stroke="#444" stroke-width="1.2"/>
<text x="432" y="634" font-size="9" font-family="Liberation Sans" fill="#555">Inlet</text>
<text x="485.8" y="634" font-size="9" font-family="Liberation Sans" fill="#555">Outlet</text></svg>
</body></html>
